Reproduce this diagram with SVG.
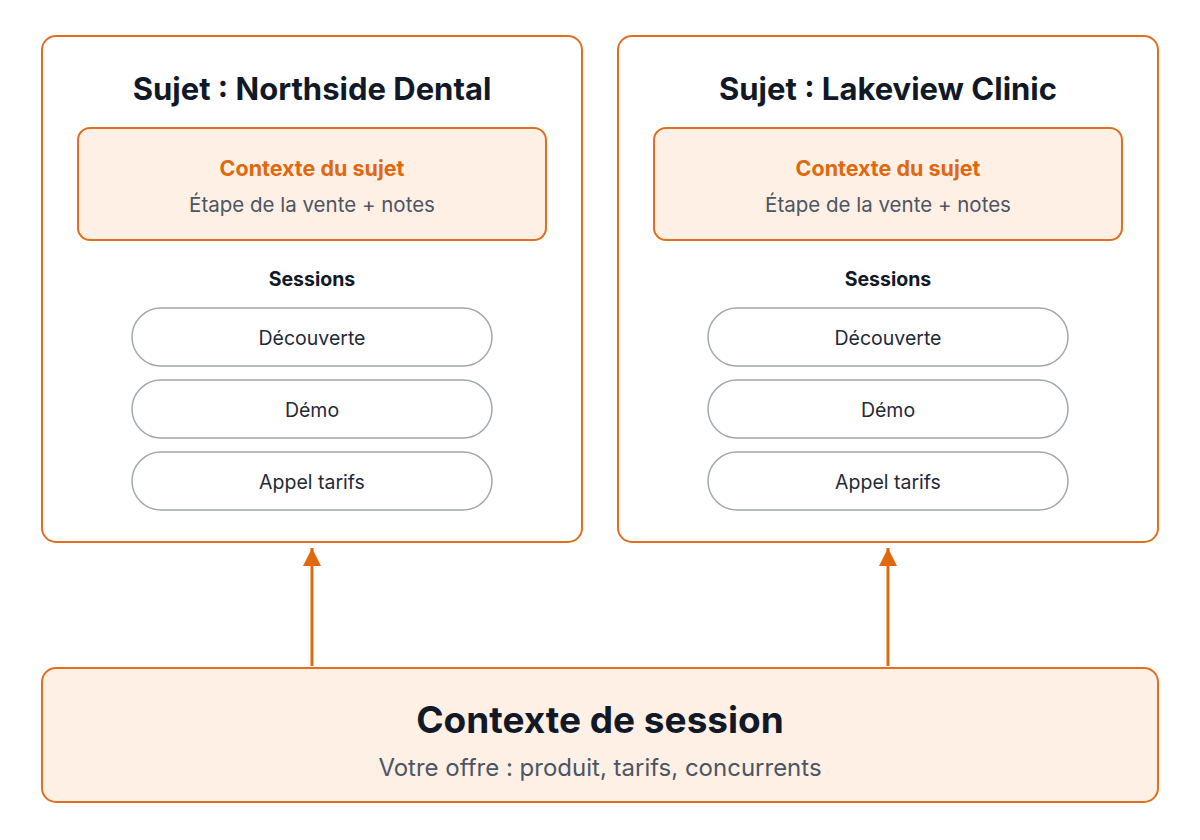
<svg xmlns="http://www.w3.org/2000/svg" width="1200" height="840" viewBox="0 0 1200 840">
<style>
text{font-family:Inter,"Liberation Sans",sans-serif;text-anchor:middle}
.outer{fill:#fff;stroke:#e07020;stroke-width:2}
.ctx{fill:#fff0e5;stroke:#e07020;stroke-width:2}
.pill{fill:#fff;stroke:#a0a8b0;stroke-width:1.5}
.title{font-size:31px;font-weight:700;fill:#111827}
.ct{font-size:21.5px;font-weight:700;fill:#e0680f}
.sub{font-size:20.5px;fill:#4b5563}
.sess{font-size:19.5px;font-weight:700;fill:#111827}
.pt{font-size:19.5px;fill:#1f2937}
</style>
<defs><marker id="ah" markerWidth="18" markerHeight="18" refX="18" refY="9" orient="auto" markerUnits="userSpaceOnUse" viewBox="0 0 18 18"><path d="M0,0 L18,9 L0,18 Z" fill="#e0680f"/></marker></defs>
<g id="n1">
<rect class="outer" x="42" y="36" width="540" height="506" rx="14"/>
<text class="title" x="312" y="100">Sujet : Northside Dental</text>
<rect class="ctx" x="78" y="128" width="468" height="112" rx="12"/>
<text class="ct" x="312" y="176">Contexte du sujet</text>
<text class="sub" x="312" y="212">Étape de la vente + notes</text>
<text class="sess" x="312" y="286">Sessions</text>
<rect class="pill" x="132" y="308" width="360" height="58" rx="29"/><text class="pt" x="312" y="345">Découverte</text>
<rect class="pill" x="132" y="380" width="360" height="58" rx="29"/><text class="pt" x="312" y="417">Démo</text>
<rect class="pill" x="132" y="452" width="360" height="58" rx="29"/><text class="pt" x="312" y="489">Appel tarifs</text>
</g>
<g id="n2">
<rect class="outer" x="618" y="36" width="540" height="506" rx="14"/>
<text class="title" x="888" y="100">Sujet : Lakeview Clinic</text>
<rect class="ctx" x="654" y="128" width="468" height="112" rx="12"/>
<text class="ct" x="888" y="176">Contexte du sujet</text>
<text class="sub" x="888" y="212">Étape de la vente + notes</text>
<text class="sess" x="888" y="286">Sessions</text>
<rect class="pill" x="708" y="308" width="360" height="58" rx="29"/><text class="pt" x="888" y="345">Découverte</text>
<rect class="pill" x="708" y="380" width="360" height="58" rx="29"/><text class="pt" x="888" y="417">Démo</text>
<rect class="pill" x="708" y="452" width="360" height="58" rx="29"/><text class="pt" x="888" y="489">Appel tarifs</text>
</g>
<g id="n3">
<rect class="ctx" x="42" y="668" width="1116" height="134" rx="14"/>
<text x="600" y="733" style="font-size:37px;font-weight:700;fill:#111827">Contexte de session</text>
<text class="sub" x="600" y="776" style="font-size:24px">Votre offre : produit, tarifs, concurrents</text>
</g>
<g id="connectors" stroke="#e0680f" stroke-width="3">
<line x1="312" y1="666" x2="312" y2="548" marker-end="url(#ah)"/>
<line x1="888" y1="666" x2="888" y2="548" marker-end="url(#ah)"/>
</g>
</svg>
